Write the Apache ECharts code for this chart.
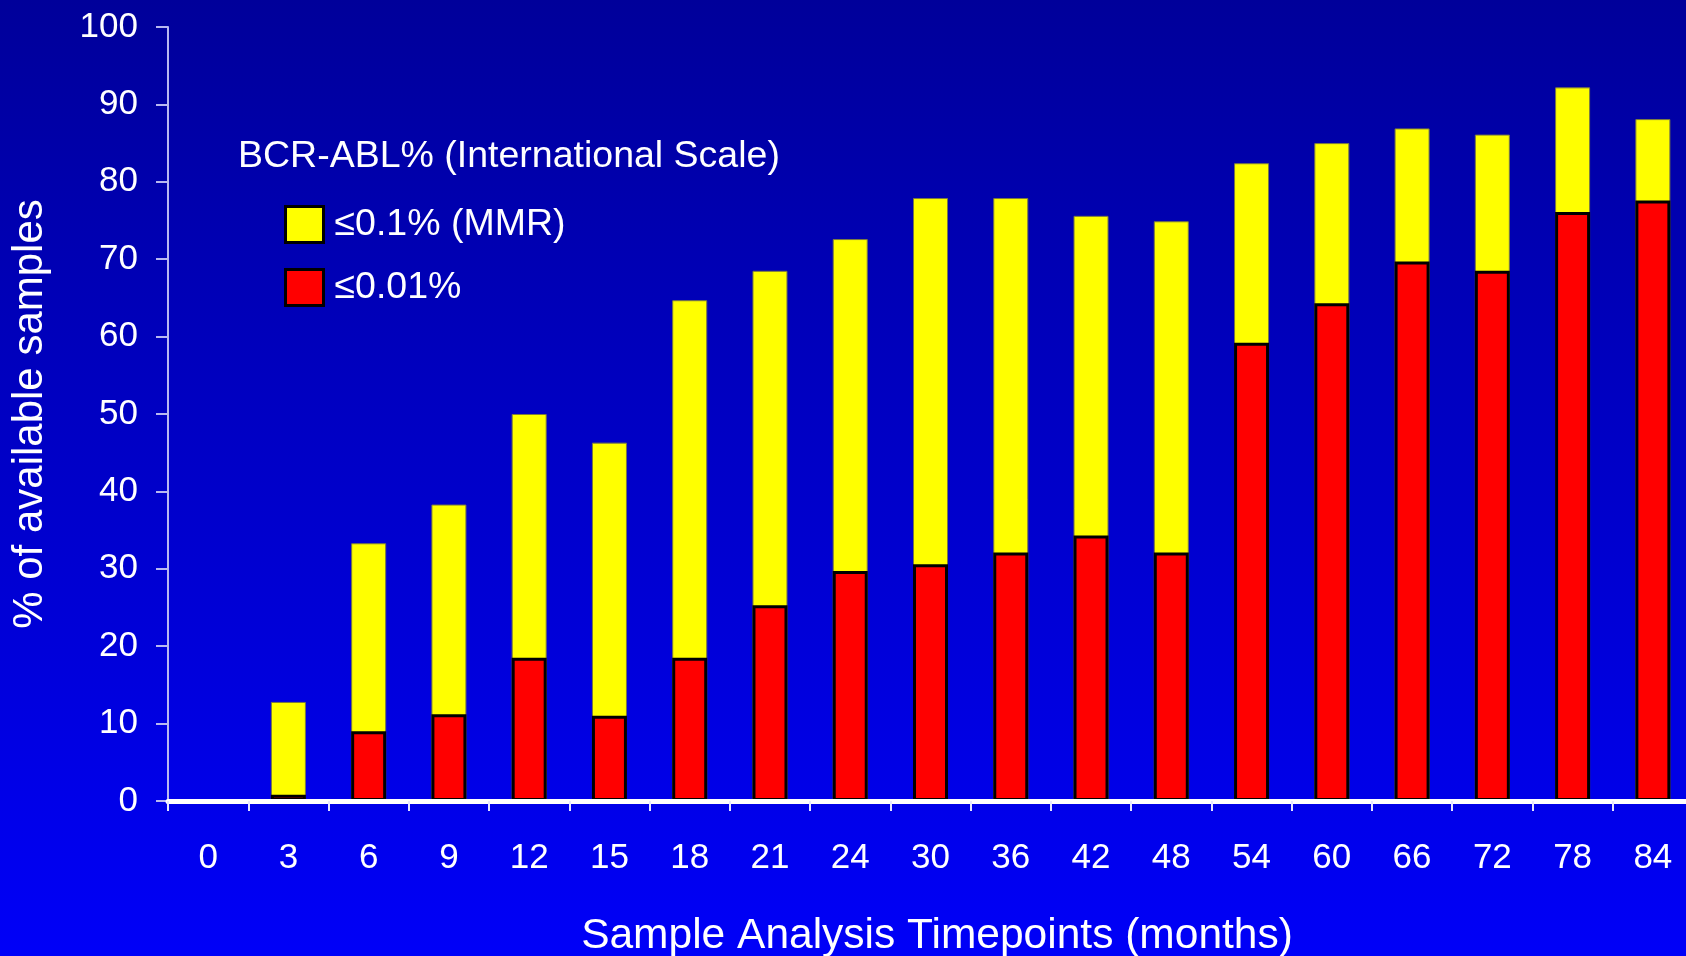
<!DOCTYPE html>
<html>
<head>
<meta charset="utf-8">
<script src="https://cdn.jsdelivr.net/npm/echarts@6/dist/echarts.min.js"></script>
<style>
  html, body { margin: 0; padding: 0; }
  body { background: linear-gradient(to bottom, #00009a 0%, #0000f8 100%); }
  #chart { width: 1686px; height: 956px; }
</style>
</head>
<body>
<div id="chart"></div>
<script>
const months = ['0', '3', '6', '9', '12', '15', '18', '21', '24', '30', '36', '42', '48', '54', '60', '66', '72', '78', '84']
// share of samples at or below 0.1% (MMR) - full bar height
const mmrValues = [0, 12.8, 33.3, 38.3, 50.0, 46.3, 64.7, 68.5, 72.6, 77.9, 77.9, 75.6, 74.9, 82.4, 85.0, 86.9, 86.1, 92.2, 88.1]
// share of samples at or below 0.01%
const deepValues = [0, 0.8, 9.0, 11.2, 18.5, 11.0, 18.5, 25.3, 29.7, 30.6, 32.1, 34.3, 32.1, 59.2, 64.3, 69.7, 68.5, 76.1, 77.6]
const yTicks = { min: 0, max: 100, interval: 10 }

const font = "'Liberation Sans', Arial, sans-serif"
const chart = echarts.init(document.getElementById('chart'))

chart.setOption({
  backgroundColor: 'transparent',
  textStyle: { fontFamily: font },
  title: {
    text: 'BCR-ABL% (International Scale)',
    left: 238,
    top: 138,
    padding: 0,
    textStyle: { color: '#fff', fontSize: 37.5, fontWeight: 'normal', fontFamily: font }
  },
  legend: {
    orient: 'vertical',
    left: 284,
    top: 205,
    padding: 0,
    icon: 'rect',
    itemWidth: 38,
    itemHeight: 36,
    itemGap: 24,
    textStyle: { color: '#fff', fontSize: 37.5, fontFamily: font, padding: [0, 0, 0, 6] },
    data: [
      { name: '≤0.1% (MMR)', itemStyle: { borderColor: '#000', borderWidth: 3 } },
      { name: '≤0.01%', itemStyle: { borderColor: '#000', borderWidth: 3 } }
    ]
  },
  grid: { left: 168, right: -7, top: 27, bottom: 155, outerBoundsMode: 'none' },
  xAxis: {
    type: 'category',
    data: months,
    z: 5,
    name: 'Sample Analysis Timepoints (months)',
    nameLocation: 'middle',
    nameGap: 114,
    nameTextStyle: { color: '#fff', fontSize: 42.5, fontFamily: font, padding: [0, 0, 0, 13] },
    axisLine: { lineStyle: { color: '#fff', width: 5 } },
    axisTick: { show: true, length: 10, lineStyle: { color: '#e8e8ff', width: 2 } },
    axisLabel: { color: '#fff', fontSize: 35, margin: 40, fontFamily: font, interval: 0 }
  },
  yAxis: {
    type: 'value',
    min: yTicks.min,
    max: yTicks.max,
    interval: yTicks.interval,
    name: '% of available samples',
    nameLocation: 'middle',
    nameRotate: 90,
    nameGap: 117,
    nameTextStyle: { color: '#fff', fontSize: 42, fontFamily: font },
    axisLine: { show: true, lineStyle: { color: '#b8b8f0', width: 2 } },
    axisTick: { show: true, length: 12, lineStyle: { color: '#b8b8f0', width: 2 } },
    axisLabel: { color: '#fff', fontSize: 35, margin: 30, fontFamily: font },
    splitLine: { show: false }
  },
  series: [
    {
      name: '≤0.1% (MMR)',
      type: 'bar',
      data: mmrValues,
      barWidth: 35,
      barGap: '-100%',
      itemStyle: { color: '#ffff00', borderColor: '#7a7a40', borderWidth: 1 }
    },
    {
      name: '≤0.01%',
      type: 'bar',
      data: deepValues,
      barWidth: 35,
      barGap: '-100%',
      itemStyle: { color: '#ff0000', borderColor: '#000', borderWidth: 3 }
    }
  ]
})

window.addEventListener('resize', () => chart.resize())
</script>
</body>
</html>
